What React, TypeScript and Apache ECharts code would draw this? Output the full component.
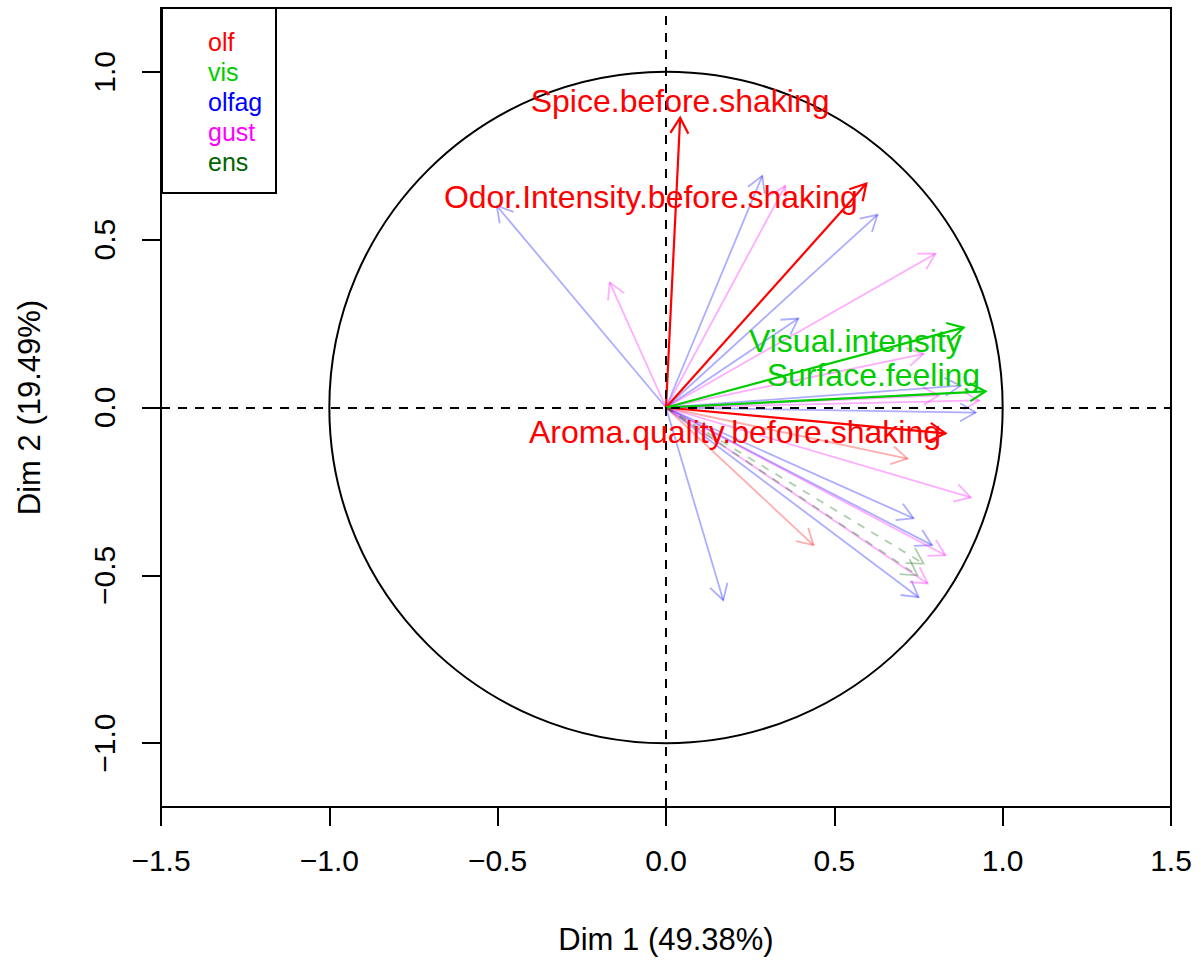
import React, { useEffect, useRef } from "react";
import * as echarts from "echarts";

const FONT = "Liberation Sans, Arial, Helvetica, sans-serif";

// groups of variables and their colours
const groups = ["olf", "vis", "olfag", "gust", "ens"];
const groupColors = ["#FF0000", "#00CD00", "#0000FF", "#FF00FF", "#006400"];

// highlighted (labelled) variables
const activeNames = [
  "Spice.before.shaking",
  "Odor.Intensity.before.shaking",
  "Aroma.quality.before.shaking",
  "Visual.intensity",
  "Surface.feeling",
];
const activeGroup = [0, 0, 0, 1, 1];
const activeDim1 = [0.042, 0.595, 0.83, 0.884, 0.949];
const activeDim2 = [0.863, 0.667, -0.077, 0.238, 0.048];
// where the labels sit (after label repulsion)
const labelDim1 = [0.042, -0.045, 0.205, 0.5625, 0.616];
const labelDim2 = [0.914, 0.628, -0.074, 0.199, 0.098];

// other (faded) variables
const olfDim1 = [0.717, 0.438];
const olfDim2 = [-0.152, -0.41];
const olfagDim1 = [-0.503, 0.286, 0.628, 0.393, 0.875, 0.92, 0.735, 0.79, 0.75, 0.17];
const olfagDim2 = [0.601, 0.69, 0.574, 0.265, 0.065, -0.015, -0.33, -0.41, -0.565, -0.574];
const gustDim1 = [-0.167, 0.354, 0.8, 0.765, 0.93, 0.81, 0.905, 0.83, 0.777];
const gustDim2 = [0.372, 0.66, 0.458, 0.16, 0.021, 0.036, -0.268, -0.44, -0.524];
const ensDim1 = [0.765, 0.747];
const ensDim2 = [-0.465, -0.5];

const yTicks = [-1.0, -0.5, 0.0, 0.5, 1.0];

const fmt = (v: number) => {
  const s = Math.abs(v).toFixed(1);
  return v < -1e-9 ? "\u2212" + s : s;
};

export default function App() {
  const ref = useRef<HTMLDivElement>(null);
  useEffect(() => {
    if (!ref.current) return;
    const chart = echarts.init(ref.current, null, { renderer: "svg" });

    const arrowData: any[] = [];
    const pushFaded = (xs: number[], ys: number[], g: number) =>
      xs.forEach((x, i) => arrowData.push([x, ys[i], g, 1]));
    pushFaded(olfagDim1, olfagDim2, 2);
    pushFaded(gustDim1, gustDim2, 3);
    pushFaded(olfDim1, olfDim2, 0);
    pushFaded(ensDim1, ensDim2, 4);
    activeDim1.forEach((x, i) => arrowData.push([x, activeDim2[i], activeGroup[i], 0]));

    const labelData = activeNames.map((n, i) => ({
      name: n,
      value: [labelDim1[i], labelDim2[i]],
      label: { color: groupColors[activeGroup[i]] },
    }));

    const option: any = {
      animation: false,
      grid: {
        left: 161,
        top: 8,
        width: 1010,
        height: 799,
        show: true,
        borderColor: "#000",
        borderWidth: 2,
        backgroundColor: "transparent",
      },
      xAxis: {
        type: "value",
        min: -1.5,
        max: 1.5,
        interval: 0.5,
        splitLine: { show: false },
        axisLine: { show: true, onZero: false, lineStyle: { color: "#000", width: 2 } },
        axisTick: { show: true, length: 19, lineStyle: { color: "#000", width: 2 } },
        axisLabel: {
          color: "#000",
          fontSize: 30,
          fontFamily: FONT,
          margin: 38,
          formatter: (v: number) => fmt(v),
        },
        name: "Dim 1 (49.38%)",
        nameLocation: "middle",
        nameGap: 117,
        nameTextStyle: { color: "#000", fontSize: 31, fontFamily: FONT },
      },
      yAxis: {
        type: "value",
        min: -1.19,
        max: 1.19,
        splitLine: { show: false },
        axisLine: { show: true, onZero: false, lineStyle: { color: "#000", width: 2 } },
        axisTick: {
          show: true,
          length: 19,
          customValues: yTicks,
          lineStyle: { color: "#000", width: 2 },
        },
        axisLabel: {
          color: "#000",
          fontSize: 30,
          fontFamily: FONT,
          rotate: 90,
          margin: 42,
          customValues: yTicks,
          formatter: (v: number) => fmt(v),
        },
        name: "Dim 2 (19.49%)",
        nameLocation: "middle",
        nameGap: 116,
        nameTextStyle: { color: "#000", fontSize: 31, fontFamily: FONT },
      },
      graphic: [
        {
          type: "rect",
          shape: { x: 162, y: 8, width: 114, height: 185 },
          style: { fill: "transparent", stroke: "#000", lineWidth: 2 },
          z: 100,
        },
        ...groups.map((g, i) => ({
          type: "text",
          x: 208,
          y: 42 + i * 30,
          style: {
            text: g,
            fill: groupColors[i],
            fontSize: 25,
            fontFamily: FONT,
            verticalAlign: "middle",
            align: "left",
          },
          z: 100,
        })),
      ],
      series: [
        {
          type: "custom",
          name: "circle",
          silent: true,
          z: 1,
          data: [[0, 0]],
          renderItem: (params: any, api: any) => {
            const c = api.coord([0, 0]);
            const s = api.size([1, 1]);
            return {
              type: "ellipse",
              shape: { cx: c[0], cy: c[1], rx: s[0], ry: s[1] },
              style: { fill: "none", stroke: "#000", lineWidth: 2 },
            };
          },
          markLine: {
            silent: true,
            symbol: "none",
            label: { show: false },
            lineStyle: { color: "#000", type: [9, 8], width: 2 },
            data: [{ xAxis: 0 }, { yAxis: 0 }],
          },
        },
        {
          type: "custom",
          name: "arrows",
          silent: true,
          z: 3,
          data: arrowData,
          renderItem: (params: any, api: any) => {
            const o = api.coord([0, 0]);
            const p = api.coord([api.value(0), api.value(1)]);
            const gi = api.value(2);
            const faded = api.value(3) === 1;
            const ang = Math.atan2(p[1] - o[1], p[0] - o[0]);
            const L = 18;
            const a = Math.PI / 6;
            const h1 = [p[0] - L * Math.cos(ang - a), p[1] - L * Math.sin(ang - a)];
            const h2 = [p[0] - L * Math.cos(ang + a), p[1] - L * Math.sin(ang + a)];
            const style: any = {
              stroke: groupColors[gi],
              lineWidth: faded ? 1.8 : 2.2,
              opacity: faded ? 0.32 : 1,
              fill: "none",
            };
            if (gi === 4) style.lineDash = [8, 8];
            return {
              type: "group",
              children: [
                { type: "line", shape: { x1: o[0], y1: o[1], x2: p[0], y2: p[1] }, style },
                { type: "polyline", shape: { points: [h1, p, h2] }, style: { ...style, lineDash: null } },
              ],
            };
          },
        },
        {
          type: "scatter",
          name: "labels",
          silent: true,
          z: 5,
          symbolSize: 1,
          itemStyle: { color: "rgba(0,0,0,0)" },
          data: labelData,
          label: {
            show: true,
            position: "inside",
            formatter: "{b}",
            fontSize: 32,
            fontFamily: FONT,
            align: "center",
            verticalAlign: "middle",
            textBorderWidth: 0,
            textShadowBlur: 0,
            opacity: 1,
          },
        },
      ],
    };
    chart.setOption(option);
    return () => chart.dispose();
  }, []);
  return (
    <div
      ref={ref}
      style={{ position: "fixed", left: 0, top: 0, width: 1201, height: 964, background: "#fff" }}
    />
  );
}
